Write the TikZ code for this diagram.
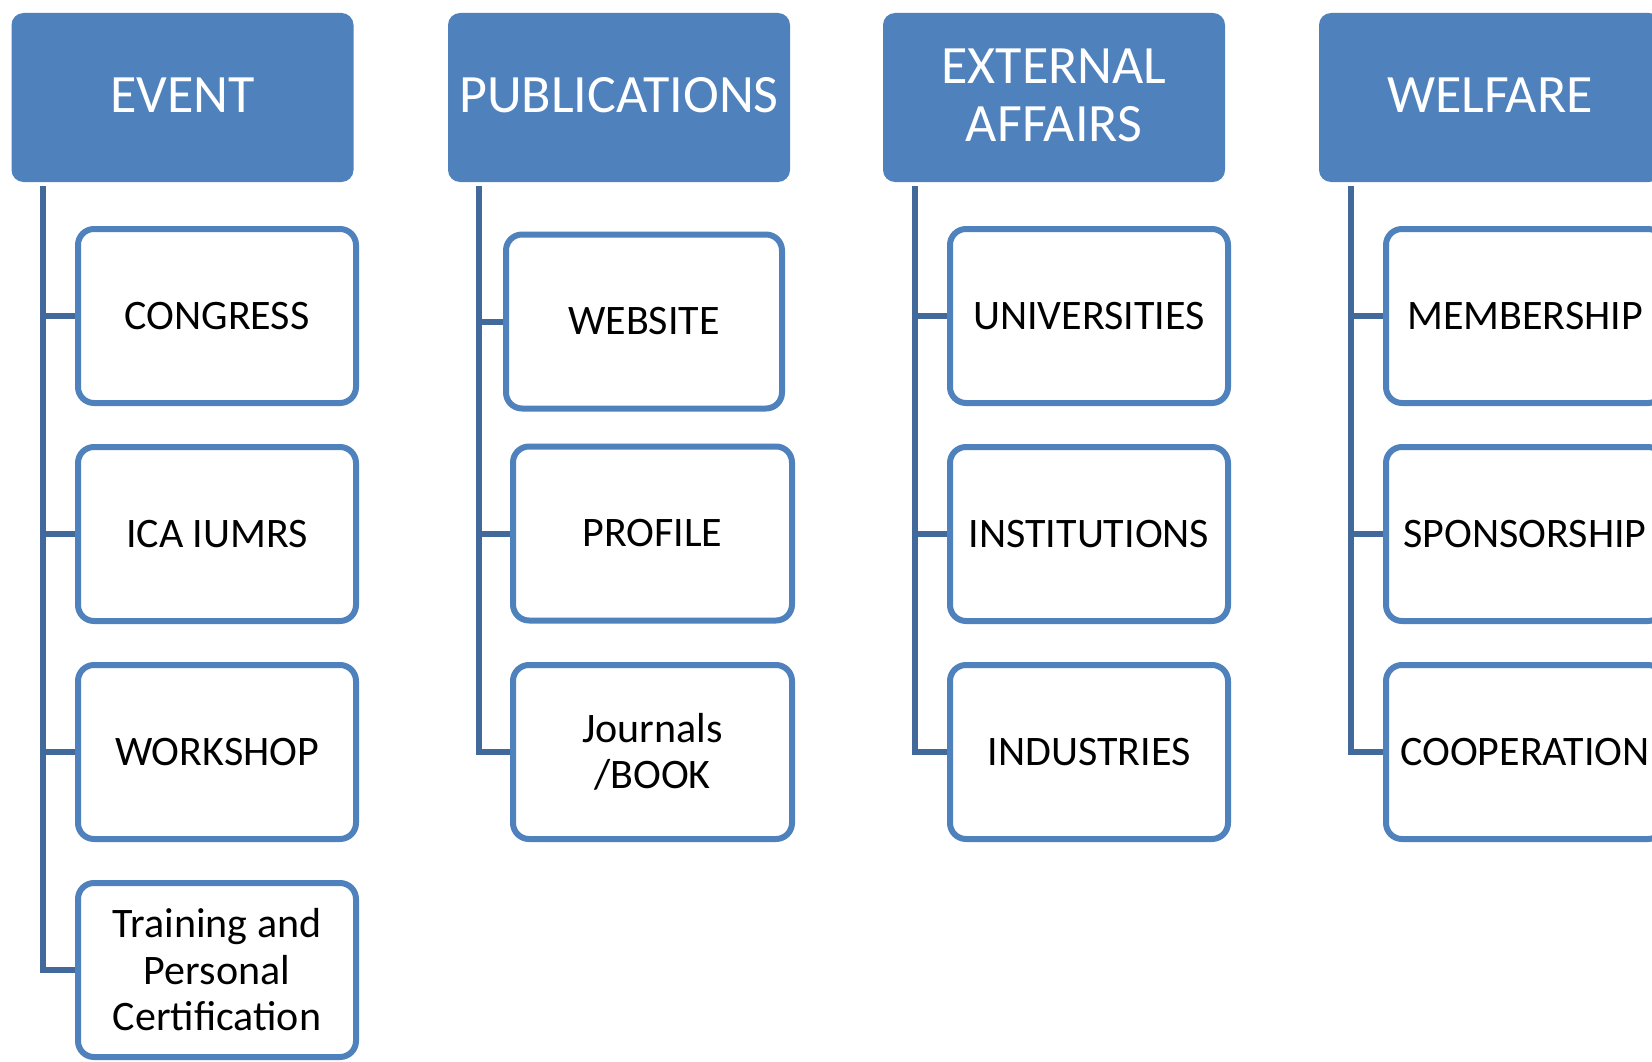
\documentclass[tikz,border=0pt]{standalone}
\usepackage{fontspec}
\setmainfont{Carlito}
\definecolor{hdrblue}{HTML}{4F81BD}
\definecolor{connblue}{HTML}{41699C}
\newcommand\hdrtext[1]{\raisebox{-3pt}[\height][\depth]{\begin{tabular}{@{}c@{}}#1\end{tabular}}}
\begin{document}
\begin{tikzpicture}[x=1pt,y=-1pt,
  header/.style={fill=hdrblue, draw=none, rounded corners=12pt, minimum width=342pt, minimum height=169pt,
     text=white, align=center, inner sep=0pt, font=\fontsize{54}{58}\selectfont},
  child/.style={draw=hdrblue, line width=6pt, fill=white, rounded corners=16pt, minimum width=278pt, minimum height=174pt,
     text=black, align=center, inner sep=0pt, font=\fontsize{42}{46.5}\selectfont},
  conn/.style={draw=connblue, line width=6pt}]
\useasboundingbox (0,0) rectangle (1652,1062);
\fill[white] (0,0) rectangle (1652,1062);
% headers
\node[header] (ev) at (182.5,97.5) {\hdrtext{EVENT}};
\node[header] (pub) at (619,97.5) {\hdrtext{PUBLICATIONS}};
\node[header] (ext) at (1054,97.5) {\hdrtext{EXTERNAL\\AFFAIRS}};
\node[header] (wel) at (1490,97.5) {\hdrtext{WELFARE}};
% trunk tops
\coordinate (evt) at (43,186);
\coordinate (pubt) at (479,186);
\coordinate (extt) at (915,186);
\coordinate (welt) at (1351,186);
% event children
\node[child] (e1) at (217,316) {CONGRESS};
\node[child] (e2) at (217,534) {ICA IUMRS};
\node[child] (e3) at (217,752) {WORKSHOP};
\node[child] (e4) at (217,970) {Training and\\Personal\\Certification};
% publications children
\node[child, minimum width=276pt] (p1) at (644,321.5) {WEBSITE};
\node[child, minimum width=279pt] (p2) at (652.5,533.5) {PROFILE};
\node[child, minimum width=279pt] (p3) at (652.5,752) {Journals\\/BOOK};
% external children
\node[child] (x1) at (1089,316) {UNIVERSITIES};
\node[child] (x2) at (1089,534) {INSTITUTIONS};
\node[child] (x3) at (1089,752) {INDUSTRIES};
% welfare children
\node[child] (w1) at (1525,316) {MEMBERSHIP};
\node[child] (w2) at (1525,534) {SPONSORSHIP};
\node[child] (w3) at (1525,752) {COOPERATION};
% connectors
\begin{scope}[conn]
\draw (evt) |- (e4.west);
\draw (e1.west) -- (e1.west -| evt);
\draw (e2.west) -- (e2.west -| evt);
\draw (e3.west) -- (e3.west -| evt);
\draw (pubt) |- (p3.west);
\draw (p1.west) -- (p1.west -| pubt);
\draw (p2.west) -- (p2.west -| pubt);
\draw (extt) |- (x3.west);
\draw (x1.west) -- (x1.west -| extt);
\draw (x2.west) -- (x2.west -| extt);
\draw (welt) |- (w3.west);
\draw (w1.west) -- (w1.west -| welt);
\draw (w2.west) -- (w2.west -| welt);
\end{scope}
\end{tikzpicture}
\end{document}
